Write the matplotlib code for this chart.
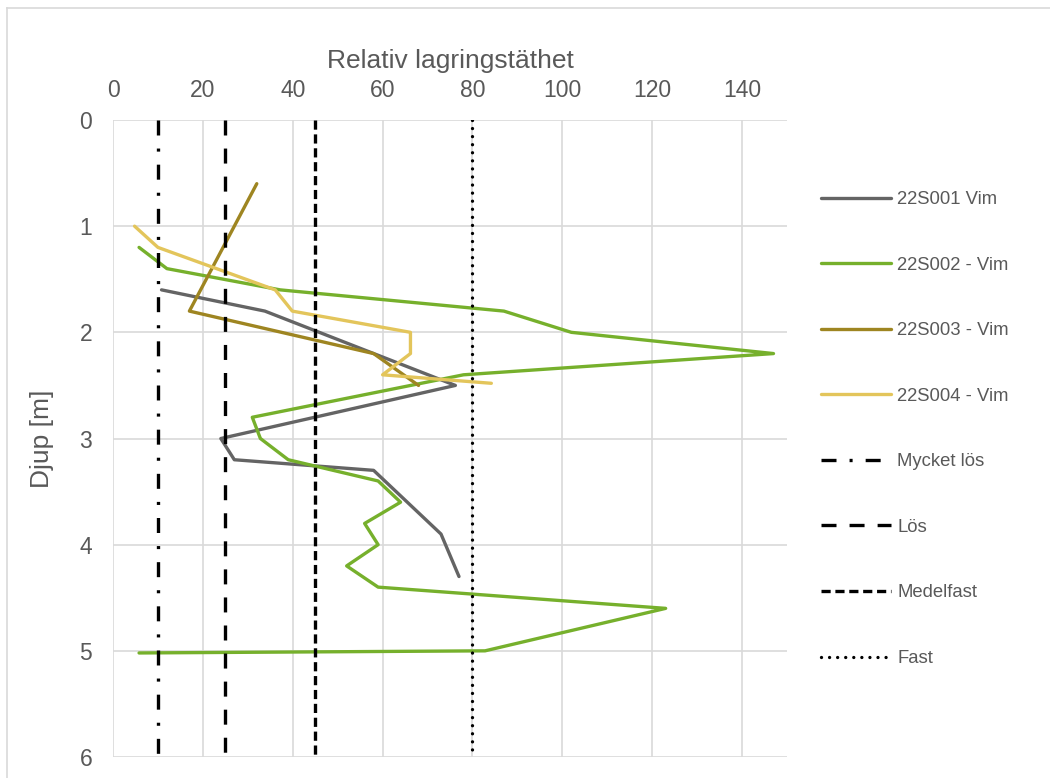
import matplotlib
matplotlib.use("Agg")
import matplotlib.pyplot as plt
from matplotlib.lines import Line2D

plt.rcParams['font.family'] = ['Liberation Sans', 'DejaVu Sans']
plt.rcParams['lines.scale_dashes'] = False

# ---- data ----
s1_x = [10.8, 33.8, 76.2, 24.0, 27.0, 58.0, 73.0, 77.0]
s1_y = [1.6, 1.8, 2.5, 3.0, 3.2, 3.3, 3.9, 4.3]

s2_x = [5.8, 12.0, 37.2, 87.0, 102.0, 147.0, 78.0, 31.0, 32.8, 39.0, 59.0, 64.0,
        56.0, 59.0, 52.0, 59.0, 123.0, 82.8, 5.8]
s2_y = [1.2, 1.4, 1.6, 1.8, 2.0, 2.2, 2.4, 2.8, 3.0, 3.2, 3.4, 3.6,
        3.8, 4.0, 4.2, 4.4, 4.6, 5.0, 5.02]

s3_x = [32.0, 17.0, 58.0, 68.0]
s3_y = [0.6, 1.8, 2.2, 2.5]

s4_x = [4.8, 10.0, 36.1, 39.9, 66.2, 66.2, 60.0, 84.2]
s4_y = [1.0, 1.2, 1.6, 1.8, 2.0, 2.2, 2.4, 2.48]

series_names = ['22S001 Vim', '22S002 - Vim', '22S003 - Vim', '22S004 - Vim']
series_colors = ['#646464', '#76B02C', '#9E8521', '#E3C55B']

limit_names = ['Mycket lös', 'Lös', 'Medelfast', 'Fast']
limit_values = [10, 25, 45, 80]
limit_depths = [0, 6]

x_ticks = [0, 20, 40, 60, 80, 100, 120, 140]
y_ticks = [0, 1, 2, 3, 4, 5, 6]

# ---- figure ----
fig = plt.figure(figsize=(10.5, 7.78), dpi=100)
ax = fig.add_axes([113/1050, 1 - 757/778, (787 - 113)/1050, (757 - 120)/778])

text_color = '#595959'
grid_color = '#D9D9D9'

ax.set_xlim(0, 150)
ax.set_ylim(6, 0)
ax.set_xticks(x_ticks)
ax.set_yticks(y_ticks)
ax.xaxis.tick_top()
ax.xaxis.set_label_position('top')
ax.tick_params(axis='both', length=0, labelsize=16.5, colors=text_color)
ax.tick_params(axis='x', pad=13)
ax.tick_params(axis='y', pad=15)
ax.grid(True, color=grid_color, linewidth=1.2)
ax.set_axisbelow(True)
for sp in ax.spines.values():
    sp.set_visible(False)

ax.set_xlabel('Relativ lagringstäthet', fontsize=19, color=text_color, labelpad=8)
ax.set_ylabel('Djup [m]', fontsize=19, color=text_color, labelpad=18)

lw = 2.4
for xs, ys, name, col in zip([s1_x, s2_x, s3_x, s4_x], [s1_y, s2_y, s3_y, s4_y],
                             series_names, series_colors):
    ax.plot(xs, ys, color=col, linewidth=lw, label=name, solid_capstyle='round',
            solid_joinstyle='round', zorder=3)

dash_styles = [
    (0, (10.8, 9.4, 2.2, 9.4)),
    (0, (10.8, 9.4)),
    (0, (6.6, 3.4)),
    (0, (0.01, 5.8)),
]
caps = ['butt', 'butt', 'butt', 'round']
for v, name, ls, cap in zip(limit_values, limit_names, dash_styles, caps):
    ax.plot([v, v], limit_depths, color='black', linewidth=2.4, linestyle=ls,
            dash_capstyle=cap, label=name, zorder=4)

leg = ax.legend(loc='upper left', bbox_to_anchor=(821/1050, 1 - 191/778),
                bbox_transform=fig.transFigure, frameon=False, fontsize=13.3,
                handlelength=3.77, handletextpad=0.35, labelspacing=2.63,
                borderpad=0, borderaxespad=0)
for t in leg.get_texts():
    t.set_color(text_color)

# chart border (top and left visible)
fig.add_artist(Line2D([7/1050, 7/1050], [0, 1 - 7.5/778], transform=fig.transFigure,
                      color=grid_color, linewidth=1.2))
fig.add_artist(Line2D([7/1050, 1], [1 - 7.5/778, 1 - 7.5/778], transform=fig.transFigure,
                      color=grid_color, linewidth=1.2))

fig.savefig('out.png', dpi=100)
